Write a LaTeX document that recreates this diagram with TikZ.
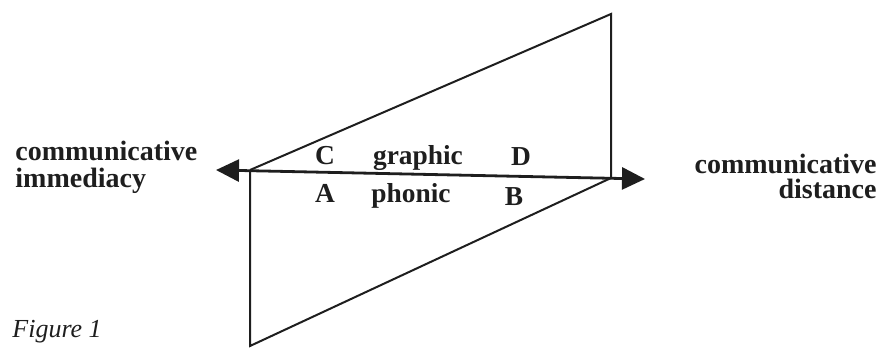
\documentclass[tikz,border=0pt]{standalone}
\usepackage{fontspec}
\setmainfont{Liberation Serif}
\usepackage{xcolor}
\usetikzlibrary{arrows.meta}
\definecolor{ink}{HTML}{1E1E1E}
\tikzset{
  edge/.style={line width=1pt, color=ink},
  axis/.style={
    {Triangle[length=11.5pt, width=11pt]}-{Triangle[length=11.5pt, width=11pt]},
    line width=1.4pt, color=ink
  },
  pole/.style={font=\fontsize{14}{15}\selectfont\bfseries, text=ink, inner sep=0pt},
  field/.style={font=\fontsize{13.7}{14}\selectfont\bfseries, text=ink, inner sep=0pt, anchor=base},
  caption/.style={font=\fontsize{13}{14}\selectfont\itshape, text=ink, inner sep=0pt, anchor=base west}
}
\begin{document}
\begin{tikzpicture}[x=0.5pt, y=-0.5pt]
  \useasboundingbox (0,0) rectangle (879,348);

  % corners
  \coordinate (left) at (250,170);
  \coordinate (right) at (611,178);
  \coordinate (top) at (611,14);
  \coordinate (bottom) at (250,346);
  \coordinate (ltip) at (216,170);
  \coordinate (rtip) at (645,179);

  % upper and lower triangles
  \draw[edge] (left) -- (top) -- (right);
  \draw[edge] (left) -- (bottom) -- (right);

  % axis
  \draw[axis] (ltip) -- (rtip);

  % poles
  \node[pole, anchor=base west] (imm1) at (15,160) {communicative};
  \node[pole, anchor=base west] (imm2) at (15,187) {immediacy};
  \node[pole, anchor=base east] (dist1) at (877,173) {communicative};
  \node[pole, anchor=base east] (dist2) at (877,198) {distance};

  % fields
  \node[field] (C) at (325,164) {C};
  \node[field] (graphic) at (418,164) {graphic};
  \node[field] (D) at (521,165) {D};
  \node[field] (A) at (325,202) {A};
  \node[field] (phonic) at (411,202) {phonic};
  \node[field] (B) at (514,205) {B};

  % caption
  \node[caption] (fig) at (12,337) {Figure 1};
\end{tikzpicture}
\end{document}
